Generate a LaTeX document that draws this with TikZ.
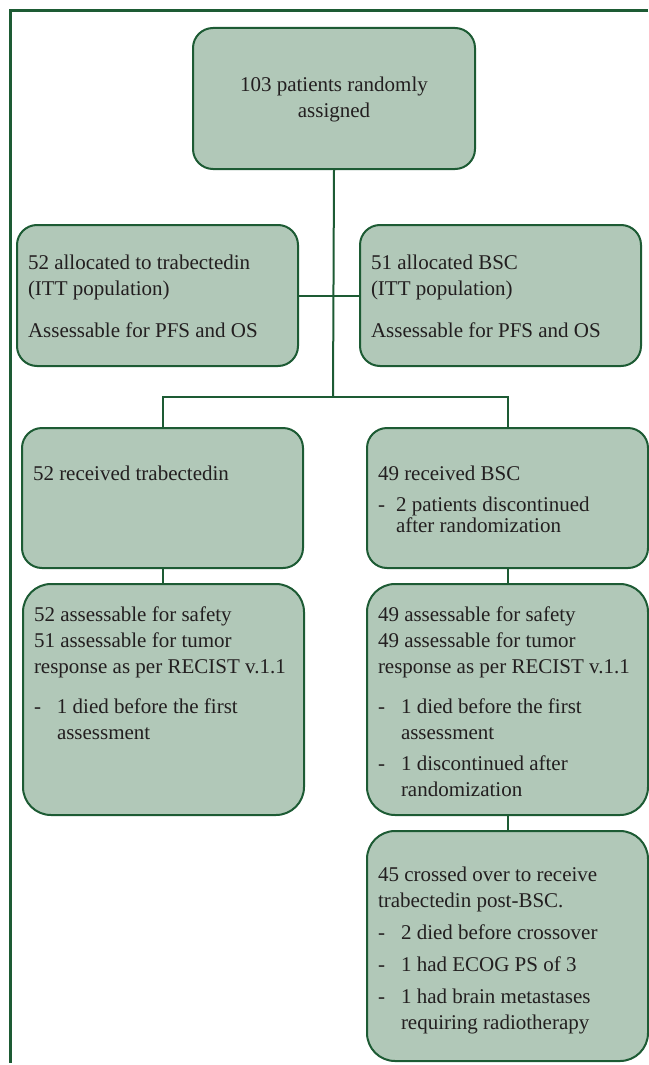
\documentclass[tikz,border=0pt]{standalone}
\usepackage{fontspec}
\setmainfont{Liberation Serif}
\newfontfamily\flowserif{Liberation Serif}
\usepackage{tikz}
\definecolor{boxfill}{HTML}{B1C8B8}
\definecolor{boxline}{HTML}{1D5B34}
\definecolor{ink}{HTML}{231F20}
\newcommand{\flowfont}{\flowserif\fontsize{21}{26}\selectfont}
\newcommand{\cell}[3]{\parbox[c][#1][t]{259pt}{\vspace*{#2}\strut#3}}
\newcommand{\flowitem}[2][23pt]{\par\noindent\makebox[#1][l]{-}\parbox[t]{\dimexpr259pt-#1\relax}{#2}\par}

\begin{document}
\begin{tikzpicture}[x=1pt, y=1pt,
		flow/.style={draw=boxline, fill=boxfill, line width=2pt, rounded corners=20pt, anchor=north west, inner xsep=11pt, inner ysep=0pt, font=\flowfont, text=ink},
		link/.style={draw=boxline, line width=2pt}]
		\useasboundingbox (0, 0) rectangle (648, -1065);
		\draw[boxline, line width=3pt] (648, -11) -- (10, -11) -- (10, -1063);
		\node[flow, minimum width=282pt, inner xsep=0pt, align=center] (rand) at (192, -27) {\parbox[c][141pt][t]{282pt}{\centering\vspace*{45pt}\strut103 patients randomly\\assigned}};
		\node[flow] (alloc1) at (16, -224) {\cell{141pt}{26pt}{52 allocated to trabectedin\\(ITT population)\par\vspace{16pt}Assessable for PFS and OS}};
		\node[flow] (alloc2) at (359, -224) {\cell{141pt}{26pt}{51 allocated BSC\\(ITT population)\par\vspace{16pt}Assessable for PFS and OS}};
		\coordinate (fork) at (333, -397);
		\draw[link] (rand.south) -- (fork);
		\draw[link] (alloc1.east) -- (alloc2.west);
		\node[flow] (recv1) at (21, -427) {\cell{140pt}{34pt}{52 received trabectedin}};
		\node[flow] (recv2) at (366, -427) {\cell{140pt}{34pt}{49 received BSC\par\vspace{5pt}\flowitem[18pt]{\baselineskip=21pt 2 patients discontinued\\after randomization}}};
		\draw[link] (recv1.north) |- (fork) -| (recv2.north);
		\node[flow, rounded corners=28pt] (safe1) at (22, -583) {\cell{231pt}{19pt}{52 assessable for safety\\51 assessable for tumor\\response as per RECIST v.1.1\par\vspace{14pt}\flowitem{1 died before the first\\assessment}}};
		\node[flow, rounded corners=28pt] (safe2) at (366, -583) {\cell{231pt}{19pt}{49 assessable for safety\\49 assessable for tumor\\response as per RECIST v.1.1\par\vspace{14pt}\flowitem{1 died before the first\\assessment}\vspace{15pt}\flowitem{1 discontinued after\\randomization}}};
		\draw[link] (recv1.south) -- (recv1.south |- safe1.north);
		\draw[link] (recv2.south) -- (safe2.north);
		\node[flow, rounded corners=28pt] (cross) at (366, -830) {\cell{230pt}{32pt}{45 crossed over to receive\\trabectedin post-BSC.\par\vspace{6pt}\flowitem{2 died before crossover}\vspace{6pt}\flowitem{1 had ECOG PS of 3}\vspace{6pt}\flowitem{1 had brain metastases\\requiring radiotherapy}}};
		\draw[link] (safe2.south) -- (cross.north);
	\end{tikzpicture}
\end{document}
